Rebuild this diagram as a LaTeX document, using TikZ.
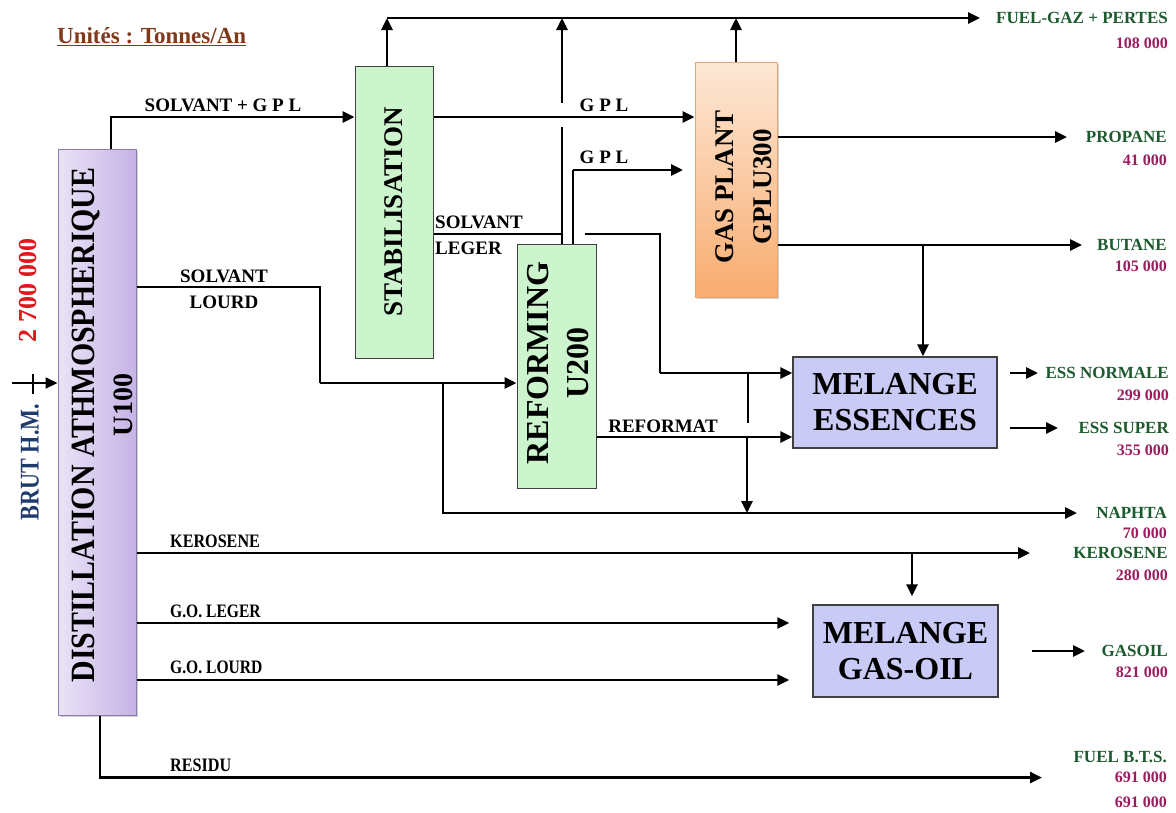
\documentclass[tikz,border=0pt]{standalone}
\usepackage{fontspec}
\setmainfont{Liberation Serif}
\usepackage{graphicx}
\usetikzlibrary{positioning,arrows.meta,shadows}
\definecolor{unitbrown}{HTML}{7F3A1D}
\definecolor{crudered}{HTML}{E3161B}
\definecolor{crudeblue}{HTML}{1F3B6E}
\definecolor{prodgreen}{HTML}{1D5A2E}
\definecolor{qtymag}{HTML}{9C1D5F}
\definecolor{distlight}{HTML}{EAE3F7}
\definecolor{distdark}{HTML}{C5B3E5}
\definecolor{distedge}{HTML}{8C7AA8}
\definecolor{unitgreen}{HTML}{CDF5CD}
\definecolor{gastop}{HTML}{FDE8D6}
\definecolor{gasbot}{HTML}{F8AC70}
\definecolor{gasedge}{HTML}{E2A774}
\definecolor{mixblue}{HTML}{CACAF7}
\newcommand{\narrow}[2]{\scalebox{#1}[1]{#2}}

\begin{document}
\begin{tikzpicture}[x=1pt,y=-1pt,
  box/.style={draw=black!75,line width=1pt,inner sep=0pt},
  tower/.style={box,fill=unitgreen},
  mix/.style={box,fill=mixblue,line width=1.3pt,align=center,
              font=\bfseries\fontsize{32}{36}\selectfont},
  pipe/.style={line width=2.8pt},
  flow/.style={pipe,-{Triangle[length=12pt,width=11pt]}},
  slim/.style={line width=1.2pt},
  lbl/.style={inner sep=0pt,font=\bfseries\fontsize{19}{26}\selectfont},
  prod/.style={inner sep=0pt,anchor=east,text=prodgreen,font=\bfseries\fontsize{17}{19}\selectfont},
  qty/.style={inner sep=0pt,text=qtymag,font=\bfseries\fontsize{16}{18}\selectfont}]
\useasboundingbox[fill=white] (0,0) rectangle (1176,812);

% units
\node[box,draw=distedge,left color=distlight,right color=distdark,minimum width=78pt,
      minimum height=566pt,drop shadow={shadow xshift=2pt,shadow yshift=-2pt,opacity=.35}] (dist) at (97,432) {};
\node[rotate=90,font=\bfseries\fontsize{34}{34}\selectfont] at (86,425) {\narrow{0.88}{DISTILLATION ATHMOSPHERIQUE}};
\node[rotate=90,font=\bfseries\fontsize{28}{28}\selectfont] at (123,405) {U100};
\node[tower,minimum width=78pt,minimum height=292pt] (stab) at (394,212) {};
\node[rotate=90,font=\bfseries\fontsize{27}{27}\selectfont] at (stab) {STABILISATION};
\node[tower,minimum width=79pt,minimum height=244pt] (refo) at (556.5,366) {};
\node[rotate=90,align=center,font=\bfseries\fontsize{32}{40}\selectfont] at (558,363) {REFORMING\\U200};
\node[box,draw=gasedge,top color=gastop,bottom color=gasbot,minimum width=82pt,minimum height=235pt,
      drop shadow={shadow xshift=2pt,shadow yshift=-2pt,opacity=.35}] (gasp) at (736,179.5) {};
\node[rotate=90,align=center,font=\bfseries\fontsize{27}{38}\selectfont] at (744,187) {GAS PLANT\\GPLU300};
\node[mix,minimum width=204pt,minimum height=91pt] (mess) at (895,402.5) {MELANGE\\ESSENCES};
\node[mix,minimum width=185pt,minimum height=92pt] (mgo) at (905.5,651) {MELANGE\\GAS-OIL};

% products
\node[prod] (fg) at (1168,18) {FUEL-GAZ + PERTES};
\node[qty,below=14pt of fg.south east,anchor=north east] (fgq) {108 000};
\node[prod] (prop) at (1167,137) {PROPANE};
\node[qty,below=12pt of prop.south east,anchor=north east] (propq) {41 000};
\node[prod] (but) at (1167,245) {BUTANE};
\node[qty,below=10pt of but.south east,anchor=north east] (butq) {105 000};
\node[prod] (essn) at (1169,373) {ESS NORMALE};
\node[qty,below=11pt of essn.south east,anchor=north east] (essnq) {299 000};
\node[prod] (esss) at (1169,428) {ESS SUPER};
\node[qty,below=11pt of esss.south east,anchor=north east] (esssq) {355 000};
\node[prod] (nap) at (1167,513) {NAPHTA};
\node[qty,below=9pt of nap.south east,anchor=north east] (napq) {70 000};
\node[prod] (ker) at (1168,553) {KEROSENE};
\node[qty,below=11pt of ker.south east,anchor=north east] (kerq) {280 000};
\node[prod] (gas) at (1168,651) {GASOIL};
\node[qty,below=10pt of gas.south east,anchor=north east] (gasq) {821 000};
\node[prod] (fbts) at (1167,757) {FUEL B.T.S.};
\node[qty,below=9pt of fbts.south east,anchor=north east] (fbq) {691 000};
\node[qty,below=14pt of fbq.south east,anchor=north east] (fbq2) {691 000};

% crude feed
\node[anchor=west,inner sep=0pt,text=unitbrown,font=\bfseries\fontsize{23}{23}\selectfont] at (57,37) {\underline{Unités : Tonnes/An}};
\coordinate (feed) at (12,383);
\draw[flow,line width=2.2pt] (feed) -- (feed -| dist.west);
\draw[line width=1.3pt] (33,374) -- (33,394);
\node[rotate=90,text=crudered,font=\bfseries\fontsize{26}{26}\selectfont] at (28,290) {2 700 000};
\node[rotate=90,text=crudeblue,font=\bfseries\fontsize{27}{27}\selectfont] at (30,462) {\narrow{0.82}{BRUT H.M.}};

% light ends
\draw[flow] (dist.north -| 111,0) |- (stab.west |- 0,117);
\node[lbl] at (223,105) {SOLVANT + G P L};
\draw[flow] (stab.north -| 387,0) -- (387,0 |- fg.west);
\draw[flow] (387,0 |- fg.west) -- (fg.west -| 980,0);
\draw[flow] (gasp.north) -- (gasp.north |- fg.west);
\draw[slim] (refo.north -| 562,0) -- (562,127);
\draw[flow] (562,103) -- (562,0 |- fg.west);
\draw[flow] (stab.east |- 0,117) -- (gasp.west |- 0,117);
\node[lbl] at (604,105) {G P L};
\draw[slim] (refo.north -| 573,0) -- (573,170);
\draw[flow] (573,170) -- (683,170);
\node[lbl] at (604,157) {G P L};
\draw[slim] (stab.east |- 0,234) -- (562,234);
\draw[slim] (585,234) -| (660,373);
\draw[flow] (660,373) -- (mess.west |- 0,373);
\draw[slim] (748,373) -- (748,423);
\node[lbl,anchor=west,align=left] at (435,235) {SOLVANT\\LEGER};
\draw[flow] (gasp.east |- prop.west) -- (prop.west -| 1067,0);
\draw[flow] (gasp.east |- but.west) -- (but.west -| 1082,0);
\draw[flow] (923,0 |- but.west) -- (mess.north -| 923,0);

% heavy solvent, reformat
\draw[slim] (dist.east |- 0,287) -| (320,383);
\draw[flow] (320,383) -- (refo.west |- 0,383);
\draw[flow] (443,383) |- (nap.west -| 1077,0);
\node[lbl,align=center] at (224,289) {SOLVANT\\LOURD};
\draw[flow] (refo.east |- 0,437) -- (mess.west |- 0,437);
\node[lbl] at (663,426) {REFORMAT};
\draw[flow] (747,437) -- (747,0 |- nap.west);
\draw[flow] (1010,0 |- essn.west) -- (essn.west -| 1038,0);
\draw[flow] (1010,0 |- esss.west) -- (esss.west -| 1058,0);

% kerosene, gas oil, residue
\draw[flow] (dist.east |- ker.west) -- (ker.west -| 1030,0);
\node[lbl,anchor=west] at (170,541) {\narrow{0.85}{KEROSENE}};
\draw[flow,shorten >=8pt] (912,0 |- ker.west) -- (mgo.north -| 912,0);
\draw[flow,shorten >=23pt] (dist.east |- 0,623) -- (mgo.west |- 0,623);
\node[lbl,anchor=west] at (170,611) {\narrow{0.82}{G.O. LEGER}};
\draw[flow,shorten >=23pt] (dist.east |- 0,680) -- (mgo.west |- 0,680);
\node[lbl,anchor=west] at (170,667) {\narrow{0.82}{G.O. LOURD}};
\draw[flow] (1032,0 |- gas.west) -- (gas.west -| 1085,0);
\draw[flow] (dist.south -| 100,0) |- (fbq.west -| 1042,0);
\node[lbl,anchor=west] at (170,765) {\narrow{0.85}{RESIDU}};
\end{tikzpicture}
\end{document}
